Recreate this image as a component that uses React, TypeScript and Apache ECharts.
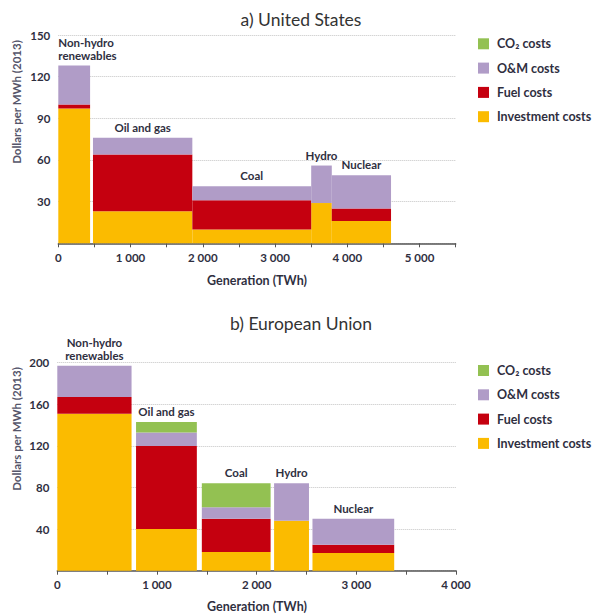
import React, { useEffect, useRef } from "react";
import * as echarts from "echarts";

// Technologies shown in both panels
const technologies = ["Non-hydro\nrenewables", "Oil and gas", "Coal", "Hydro", "Nuclear"];

// United States: generation span (TWh) and cost components (USD/MWh 2013)
const usStart = [0, 480, 1855, 3500, 3785];
const usEnd = [440, 1855, 3500, 3785, 4605];
const usInvestment = [97, 23, 10, 29, 16];
const usFuel = [3, 41, 21, 0, 9];
const usOM = [28, 12, 10, 27, 24];
const usCO2 = [0, 0, 0, 0, 0];

// European Union
const euStart = [0, 790, 1450, 2175, 2560];
const euEnd = [745, 1400, 2140, 2525, 3380];
const euInvestment = [151, 40, 18, 48, 17];
const euFuel = [16, 80, 32, 0, 8];
const euOM = [30, 13, 11, 36, 25];
const euCO2 = [0, 10, 23, 0, 0];

// Legend order, top to bottom
const legendNames = ["CO\u2082 costs", "O&M costs", "Fuel costs", "Investment costs"];

const COLORS: Record<string, string> = {
  "CO\u2082 costs": "#93c152",
  "O&M costs": "#b09cc7",
  "Fuel costs": "#c5000f",
  "Investment costs": "#fbbb00",
};

const FONT = "Lato, 'DejaVu Sans', sans-serif";
const TEXT = "#2f2f3f";

const rectRenderer = (params: any, api: any) => {
  const y0 = api.value(2);
  const y1 = api.value(3);
  if (y1 - y0 <= 0) return null;
  const a = api.coord([api.value(0), y0]);
  const b = api.coord([api.value(1), y1]);
  return {
    type: "rect",
    shape: { x: a[0], y: b[1], width: b[0] - a[0], height: a[1] - b[1] },
    style: api.style(),
  };
};

function panelSeries(
  axisIndex: number,
  start: number[],
  end: number[],
  components: { name: string; values: number[] }[],
  leftAligned: string[]
) {
  const base = start.map(() => 0);
  const series: any[] = components.map((c) => {
    const data = c.values.map((v, i) => {
      const row = [start[i], end[i], base[i], base[i] + v];
      base[i] += v;
      return row;
    });
    return {
      type: "custom",
      name: c.name,
      xAxisIndex: axisIndex,
      yAxisIndex: axisIndex,
      itemStyle: { color: COLORS[c.name] },
      encode: { x: [0, 1], y: [2, 3] },
      renderItem: rectRenderer,
      data,
    };
  });
  const totals = base.slice();
  series.push({
    type: "custom",
    name: "labels" + axisIndex,
    xAxisIndex: axisIndex,
    yAxisIndex: axisIndex,
    silent: true,
    encode: { x: [0, 1], y: 2 },
    data: start.map((s, i) => [s, end[i], totals[i]]),
    renderItem: (params: any, api: any) => {
      const name = technologies[params.dataIndex];
      const left = leftAligned.indexOf(name) >= 0;
      const pA = api.coord([api.value(0), api.value(2)]);
      const pB = api.coord([api.value(1), api.value(2)]);
      return {
        type: "text",
        x: left ? pA[0] : (pA[0] + pB[0]) / 2,
        y: pA[1] - 4,
        style: {
          text: name,
          font: `bold 11.5px ${FONT}`,
          fill: TEXT,
          textAlign: left ? "left" : "center",
          textVerticalAlign: "bottom",
          align: left ? "left" : "center",
          verticalAlign: "bottom",
          lineHeight: 13,
        },
      };
    },
  });
  return series;
}

const thousands = (v: number) =>
  v >= 1000 ? `${Math.floor(v / 1000)} ${String(v % 1000).padStart(3, "0")}` : String(v);

function xAxis(gridIndex: number, max: number) {
  return {
    type: "value",
    gridIndex,
    min: 0,
    max,
    interval: 500,
    axisLine: { show: true, lineStyle: { color: "#555555", width: 1.5 } },
    axisTick: { show: true, length: 4, lineStyle: { color: "#555555" } },
    axisLabel: {
      interval: 1,
      margin: 8,
      fontFamily: FONT,
      fontSize: 11.5,
      fontWeight: "bold",
      color: TEXT,
      formatter: (v: number) => (v % 1000 === 0 ? thousands(v) : ""),
    },
    splitLine: { show: false },
  };
}

function yAxis(gridIndex: number, max: number, interval: number) {
  return {
    type: "value",
    gridIndex,
    min: 0,
    max,
    interval,
    axisLine: { show: false },
    axisTick: { show: false },
    axisLabel: {
      margin: 8,
      fontFamily: FONT,
      fontSize: 11.5,
      fontWeight: "bold",
      color: TEXT,
      formatter: (v: number) => (v === 0 ? "" : String(v)),
    },
    splitLine: { show: true, lineStyle: { type: "dotted", color: "#c4c4c4", width: 1 } },
  };
}

function legend(top: number) {
  return {
    orient: "vertical",
    left: 478,
    top,
    padding: 0,
    data: legendNames,
    icon: "rect",
    itemWidth: 11,
    itemHeight: 11,
    itemGap: 11.3,
    selectedMode: false,
    textStyle: {
      fontFamily: FONT,
      fontSize: 12.5,
      lineHeight: 12,
      fontWeight: "bold",
      color: TEXT,
      padding: [0, 0, 0, 3],
    },
  };
}

function label(text: string, x: number, y: number, opts: any = {}) {
  return {
    type: "text",
    x,
    y,
    rotation: opts.rotation || 0,
    style: {
      text,
      font: opts.font || `bold 12.5px ${FONT}`,
      fill: opts.fill || TEXT,
      textAlign: "center",
      textVerticalAlign: "middle",
      align: "center",
      verticalAlign: "middle",
    },
  };
}

export default function App() {
  const ref = useRef<HTMLDivElement>(null);

  useEffect(() => {
    if (!ref.current) return;
    const chart = echarts.init(ref.current, null, { renderer: "svg" });

    const usSeries = panelSeries(
      0,
      usStart,
      usEnd,
      [
        { name: "Investment costs", values: usInvestment },
        { name: "Fuel costs", values: usFuel },
        { name: "O&M costs", values: usOM },
        { name: "CO\u2082 costs", values: usCO2 },
      ],
      ["Non-hydro\nrenewables"]
    );
    const euSeries = panelSeries(
      1,
      euStart,
      euEnd,
      [
        { name: "Investment costs", values: euInvestment },
        { name: "Fuel costs", values: euFuel },
        { name: "O&M costs", values: euOM },
        { name: "CO\u2082 costs", values: euCO2 },
      ],
      []
    );

    chart.setOption({
      animation: false,
      backgroundColor: "#ffffff",
      grid: [
        { left: 58.3, top: 35, width: 397.4, height: 208.3 },
        { left: 57.3, top: 362.7, width: 398.7, height: 208 },
      ],
      xAxis: [xAxis(0, 5500), xAxis(1, 4000)],
      yAxis: [yAxis(0, 150, 30), yAxis(1, 200, 40)],
      legend: [legend(37.3), legend(364)],
      series: [...usSeries, ...euSeries],
      graphic: [
        label("a) United States", 301, 19, { font: `17.5px ${FONT}`, fill: "#333333" }),
        label("b) European Union", 301, 323, { font: `17.5px ${FONT}`, fill: "#333333" }),
        label("Dollars per MWh (2013)", 16, 102, { rotation: Math.PI / 2, font: `bold 11.5px ${FONT}`, fill: "#55556a" }),
        label("Dollars per MWh (2013)", 16, 429, { rotation: Math.PI / 2, font: `bold 11.5px ${FONT}`, fill: "#55556a" }),
        label("Generation (TWh)", 257, 280),
        label("Generation (TWh)", 257, 606),
      ],
    });

    return () => chart.dispose();
  }, []);

  return (
    <div
      ref={ref}
      style={{ position: "fixed", left: 0, top: 0, width: 595, height: 616, background: "#fff" }}
    />
  );
}
